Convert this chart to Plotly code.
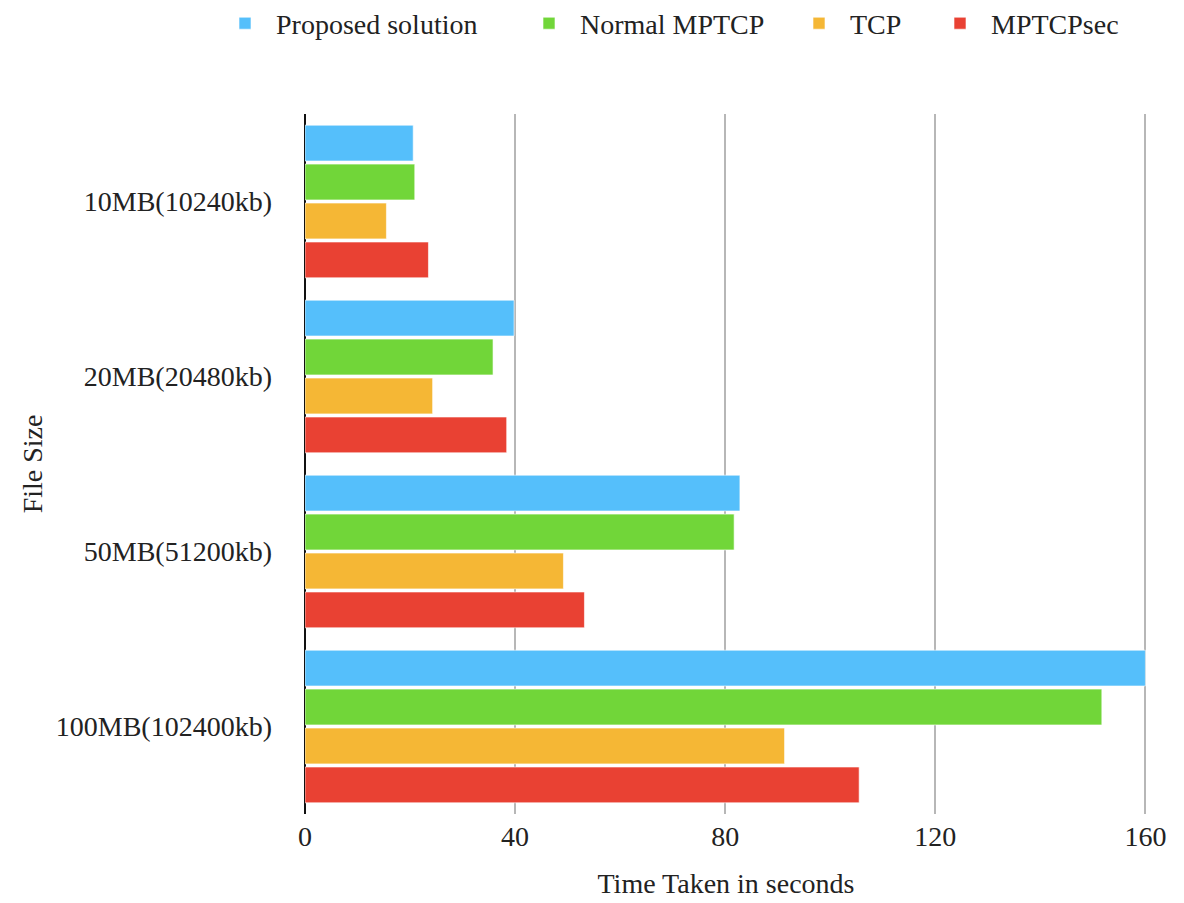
import plotly.graph_objects as go

categories = ["10MB(10240kb)", "20MB(20480kb)", "50MB(51200kb)", "100MB(102400kb)"]
series_names = ["Proposed solution", "Normal MPTCP", "TCP", "MPTCPsec"]
proposed = [20.6, 39.8, 82.8, 160.0]
normal_mptcp = [20.9, 35.8, 81.7, 151.7]
tcp = [15.5, 24.3, 49.2, 91.3]
mptcpsec = [23.5, 38.4, 53.2, 105.5]
colors = ["#55BFFB", "#71D639", "#F5B735", "#E94133"]
x_ticks = [0, 40, 80, 120, 160]

FONT = "Liberation Serif, Times New Roman, serif"
TXT = "#222222"
FS = 28

fig = go.Figure()
values = [proposed, normal_mptcp, tcp, mptcpsec]
legend_ids = ["legend", "legend2", "legend3", "legend4"]
for name, vals, col, lg in zip(series_names, values, colors, legend_ids):
    fig.add_trace(go.Bar(
        y=categories, x=vals, name=name, orientation="h",
        marker=dict(color=col, line=dict(color="rgba(255,255,255,0.6)", width=1)),
        legend=lg,
    ))

# page body has an 8px margin, so the figure is sized to fit the window
W, H = 1176, 895
ml, mr, mt, mb = 297, 37, 106, 89

legend_x_px = [206, 510, 780, 921]
legend_common = dict(orientation="h", xanchor="left", yanchor="middle",
                     xref="container", yref="container",
                     font=dict(family=FONT, size=FS, color=TXT),
                     bgcolor="rgba(0,0,0,0)", itemwidth=52)
layout_legends = {}
for lg, xp in zip(legend_ids, legend_x_px):
    layout_legends[lg] = dict(x=xp / W, y=1 - 15.5 / H, **legend_common)

fig.update_layout(
    width=W, height=H,
    margin=dict(l=ml, r=mr, t=mt, b=mb, autoexpand=False),
    paper_bgcolor="white", plot_bgcolor="white",
    font=dict(family=FONT, size=FS, color=TXT),
    barmode="group", bargap=0.11, bargroupgap=0.08,
    showlegend=True,
    **layout_legends,
)
fig.update_xaxes(
    range=[0, 160.3], tickvals=x_ticks, ticktext=[str(t) for t in x_ticks],
    showgrid=True, gridcolor="#b7b7b7", gridwidth=2,
    zeroline=True, zerolinecolor="#111111", zerolinewidth=2,
    showline=False, ticks="", automargin=False,
    ticklabelstandoff=3,
    tickfont=dict(family=FONT, size=FS, color=TXT),
    title=dict(text="Time Taken in seconds", font=dict(family=FONT, size=FS, color=TXT), standoff=22),
    fixedrange=True,
)
fig.update_yaxes(
    autorange="reversed", showgrid=False, showline=False, ticks="",
    automargin=False,
    tickfont=dict(family=FONT, size=FS, color=TXT),
    ticklabelstandoff=32,
    title=dict(text="File Size", font=dict(family=FONT, size=FS, color=TXT), standoff=4),
    fixedrange=True,
)

fig.write_html("out.html")
